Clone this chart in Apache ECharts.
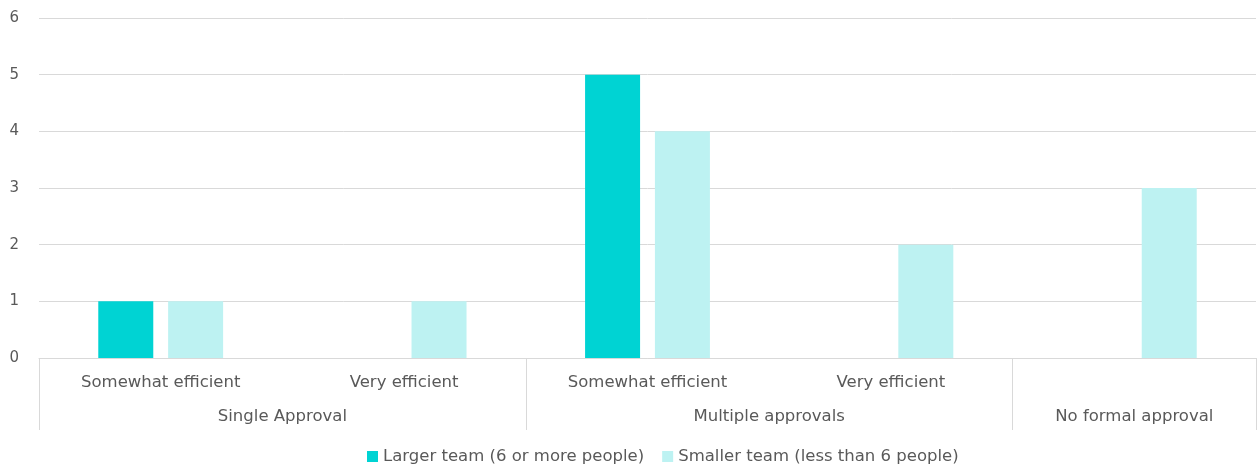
<!DOCTYPE html>
<html><head><meta charset="utf-8">
<script src="https://cdn.jsdelivr.net/npm/echarts@6/dist/echarts.min.js"></script>
<style>html,body{margin:0;padding:0;background:#fff}#c{width:1257px;height:470px}</style>
</head><body><div id="c"></div>
<script>
const categories = ['Somewhat efficient', 'Very efficient', 'Somewhat efficient', 'Very efficient', ''];
const groups = ['Single Approval', 'Multiple approvals', 'No formal approval'];
const groupSpans = [2, 2, 1];
const largerTeam = [1, null, 5, null, null];
const smallerTeam = [1, 1, 4, 2, 3];
const seriesNames = ['Larger team (6 or more people)', 'Smaller team (less than 6 people)'];
const yTicks = [0, 1, 2, 3, 4, 5, 6];

// group boundaries and centers in category units
const bounds = [0]; groupSpans.forEach(s => bounds.push(bounds[bounds.length - 1] + s));
const centers = groupSpans.map((s, i) => bounds[i] + s / 2);

const FONT = 'DejaVu Sans';
const chart = echarts.init(document.getElementById('c'));
chart.setOption({
  animation: false,
  textStyle: { fontFamily: FONT },
  grid: { left: 39, right: 1, top: 18, bottom: 112, containLabel: false },
  legend: {
    bottom: 0, left: 362, itemWidth: 11, itemHeight: 11, itemGap: 18,
    icon: 'rect',
    textStyle: { color: '#595959', fontSize: 16.5, fontFamily: FONT },
    data: seriesNames
  },
  xAxis: [
    {
      type: 'category', data: categories, position: 'bottom',
      axisLine: { show: true, lineStyle: { color: '#d9d9d9', width: 1 } },
      axisTick: { show: false },
      axisLabel: { color: '#595959', fontSize: 16.5, margin: 16, interval: 0 }
    },
    {
      type: 'value', min: 0, max: bounds[bounds.length - 1], position: 'bottom',
      axisLine: { show: false },
      splitLine: { show: false },
      axisTick: { show: true, length: 72, customValues: bounds, lineStyle: { color: '#d9d9d9', width: 1 } },
      axisLabel: {
        show: true, color: '#595959', fontSize: 16.5, margin: 50,
        customValues: centers,
        formatter: v => { const i = centers.indexOf(v); return i >= 0 ? groups[i] : ''; }
      }
    }
  ],
  yAxis: {
    type: 'value', min: yTicks[0], max: yTicks[yTicks.length - 1], interval: 1,
    axisLine: { show: false }, axisTick: { show: false },
    axisLabel: { color: '#595959', fontSize: 15, margin: 20 },
    splitLine: { lineStyle: { color: '#d9d9d9', width: 1 } }
  },
  series: [
    { name: seriesNames[0], type: 'bar', data: largerTeam, barWidth: 55, barGap: '27%', itemStyle: { color: '#00D3D3' } },
    { name: seriesNames[1], type: 'bar', data: smallerTeam, barWidth: 55, itemStyle: { color: '#BDF2F2' } }
  ]
});
</script></body></html>
